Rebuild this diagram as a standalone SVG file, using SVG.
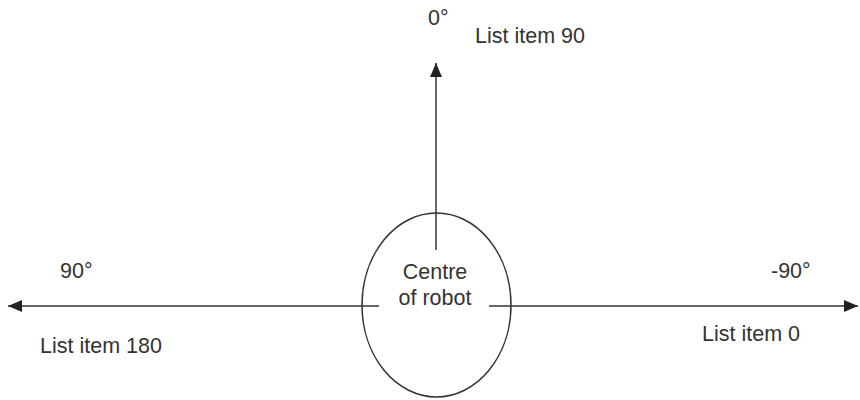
<svg xmlns="http://www.w3.org/2000/svg" width="860" height="400" viewBox="0 0 860 400">
  <style>
    .t { font-family: "Liberation Sans", Arial, sans-serif; font-size: 21.5px; fill: #333333; }
    .c { text-anchor: middle; }
    .ln { stroke: #333333; stroke-width: 1.5; fill: none; }
  </style>
  <defs>
    <marker id="ah" viewBox="0 0 14 12" refX="14" refY="6" markerWidth="14" markerHeight="12" markerUnits="userSpaceOnUse" orient="auto">
      <path d="M0,0 L14,6 L0,12 Z" fill="#222222"/>
    </marker>
  </defs>
  <rect width="860" height="400" fill="#ffffff"/>
  <g id="robot">
    <ellipse cx="436.5" cy="305" rx="74.5" ry="92" class="ln"/>
    <text class="t c" x="435" y="279">Centre</text>
    <text class="t c" x="435" y="305">of robot</text>
  </g>
  <g id="connectors">
    <line class="ln" x1="436" y1="250" x2="436" y2="63" marker-end="url(#ah)"/>
    <line class="ln" x1="379" y1="306" x2="8" y2="306" marker-end="url(#ah)"/>
    <line class="ln" x1="489" y1="306" x2="858" y2="306" marker-end="url(#ah)"/>
  </g>
  <g id="label-0deg">
    <text class="t" x="428" y="25">0°</text>
    <text class="t" x="475" y="43">List item 90</text>
  </g>
  <g id="label-90deg">
    <text class="t" x="60" y="278">90°</text>
    <text class="t" x="40" y="353">List item 180</text>
  </g>
  <g id="label-minus90deg">
    <text class="t" x="771" y="278">-90°</text>
    <text class="t" x="702" y="341">List item 0</text>
  </g>
</svg>
